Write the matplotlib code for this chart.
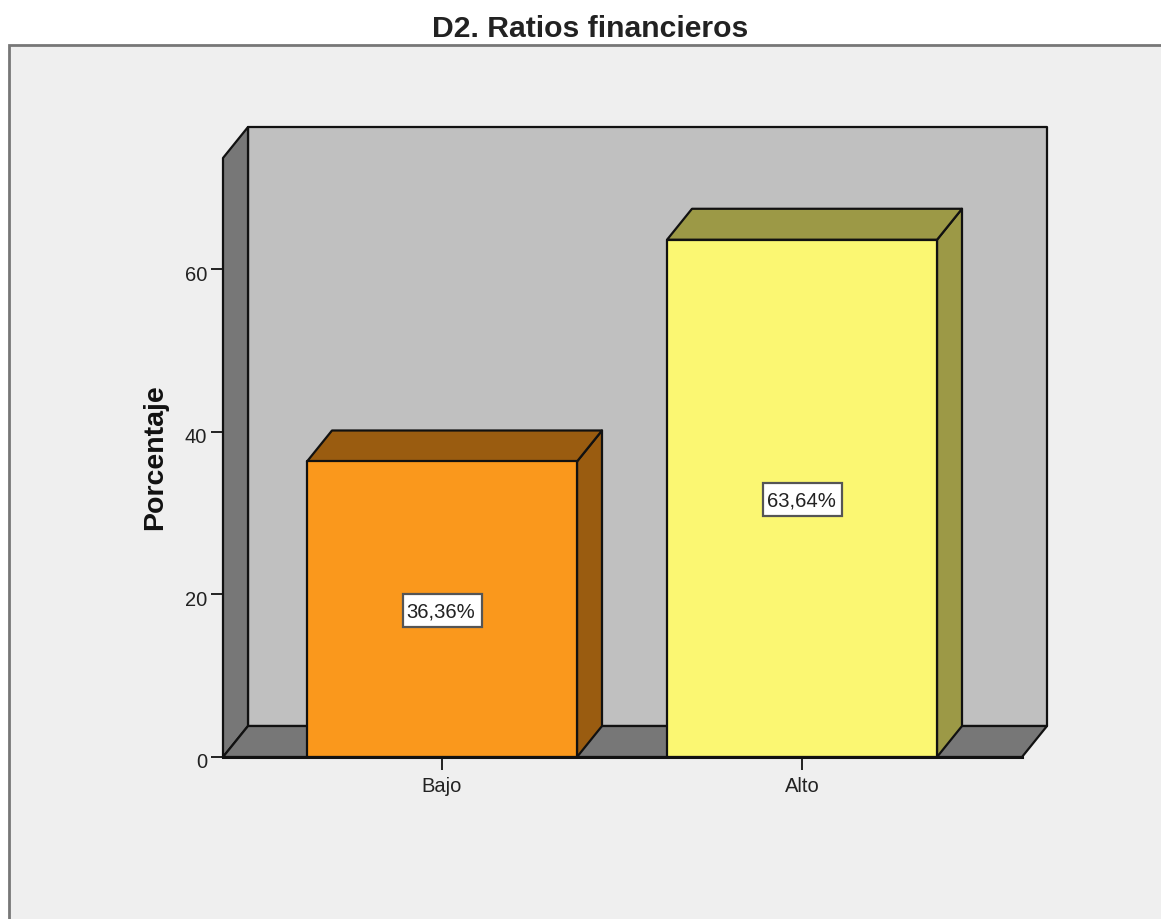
#!/usr/bin/env python3
"""D2. Ratios financieros - bar chart with a fake 3D box."""

import matplotlib
matplotlib.use("Agg")
import matplotlib.pyplot as plt
from matplotlib.patches import Polygon, Rectangle
from matplotlib.transforms import ScaledTranslation

plt.rcParams["font.family"] = ["Liberation Sans", "DejaVu Sans"]

# -------------------------------------------------------------------
# Data
# -------------------------------------------------------------------
categories = ["Bajo", "Alto"]
values = [36.36, 63.64]
value_labels = ["36,36%", "63,64%"]
y_ticks = [0, 20, 40, 60]

FRONT_COLORS = ["#FA981C", "#FBF772"]
SIDE_COLORS = ["#9A5C10", "#9C9946"]
PANEL = "#EFEFEF"
WALL = "#C0C0C0"
SIDE_WALL = "#777777"
EDGE = "#111111"

W, H = 1161, 920
Y_MAX = 73.7
BAR_WIDTH = 0.75
DX = 25 / 360  # depth of the box in data units
DY = 31 / 8.13
LABEL_W = 79 / 360
LABEL_H = 33 / 8.13
LABEL_DROP = 1 / 8.13  # boxes sit a hair below the bar middle


def poly(ax, pts, color, z):
    ax.add_patch(Polygon(pts, closed=True, facecolor=color, edgecolor=EDGE,
                         linewidth=1.6, joinstyle="round", clip_on=False, zorder=z))


fig = plt.figure(figsize=(W / 100, H / 100), dpi=100, facecolor="white")
fig.patches.append(Rectangle((9 / W, -0.1), 1.2, 0.1 + (H - 46) / H, transform=fig.transFigure,
                             facecolor=PANEL, edgecolor="#777777", linewidth=2, zorder=-1))

ax = fig.add_axes([223 / W, (H - 758) / H, (1022 - 223) / W, (758 - 159) / H])
ax.set_xlim(-219 / 360, 580 / 360)
ax.set_ylim(0, Y_MAX)
ax.patch.set_visible(False)
for s in ax.spines.values():
    s.set_visible(False)

x0, x1 = ax.get_xlim()

# box: back wall, left wall, floor
poly(ax, [(x0 + DX, DY), (x1 + DX, DY), (x1 + DX, Y_MAX + DY), (x0 + DX, Y_MAX + DY)], WALL, 1)
poly(ax, [(x0, 0), (x0 + DX, DY), (x0 + DX, Y_MAX + DY), (x0, Y_MAX)], SIDE_WALL, 2)
poly(ax, [(x0, 0), (x1, 0), (x1 + DX, DY), (x0 + DX, DY)], SIDE_WALL, 2)

# bars
for i, (v, label) in enumerate(zip(values, value_labels)):
    left, right = i - BAR_WIDTH / 2, i + BAR_WIDTH / 2
    poly(ax, [(right, 0), (right + DX, DY), (right + DX, v + DY), (right, v)], SIDE_COLORS[i], 3)
    poly(ax, [(left, v), (right, v), (right + DX, v + DY), (left + DX, v + DY)], SIDE_COLORS[i], 3)
    poly(ax, [(left, 0), (right, 0), (right, v), (left, v)], FRONT_COLORS[i], 4)
    mid = v / 2 - LABEL_DROP
    ax.add_patch(Rectangle((i - LABEL_W / 2, mid - LABEL_H / 2), LABEL_W, LABEL_H, facecolor="white",
                           edgecolor="#555555", linewidth=1.6, zorder=6))
    ax.text(i - 1 / 360, mid - LABEL_DROP, label, ha="center", va="center", fontsize=14.6,
            color="#222222", zorder=7)

ax.plot([x0, x1], [0, 0], color=EDGE, linewidth=2.2, clip_on=False, zorder=5)

ax.set_xticks(range(len(categories)))
ax.set_xticklabels(categories)
ax.set_yticks(y_ticks)
ax.tick_params(axis="x", length=9, width=1.4, color="#222222", labelsize=14.5, labelcolor="#222222", pad=4.5)
ax.tick_params(axis="y", length=8.6, width=1.4, color="#222222", labelsize=14.5, labelcolor="#222222", pad=3)

# y labels sit a little below their ticks
nudge = ScaledTranslation(0, -2 / 72, fig.dpi_scale_trans)
for lab in ax.get_yticklabels():
    lab.set_transform(lab.get_transform() + nudge)

fig.text(590 / W, (H - 29) / H, "D2. Ratios financieros", ha="center", va="center",
         fontsize=21.7, fontweight="bold", color="#222222")
fig.text(155 / W, (H - 457) / H, "Porcentaje", ha="center", va="center", rotation=90,
         fontsize=20.5, fontweight="bold", color="#111111")

fig.savefig("out.png", dpi=100, facecolor="white")
